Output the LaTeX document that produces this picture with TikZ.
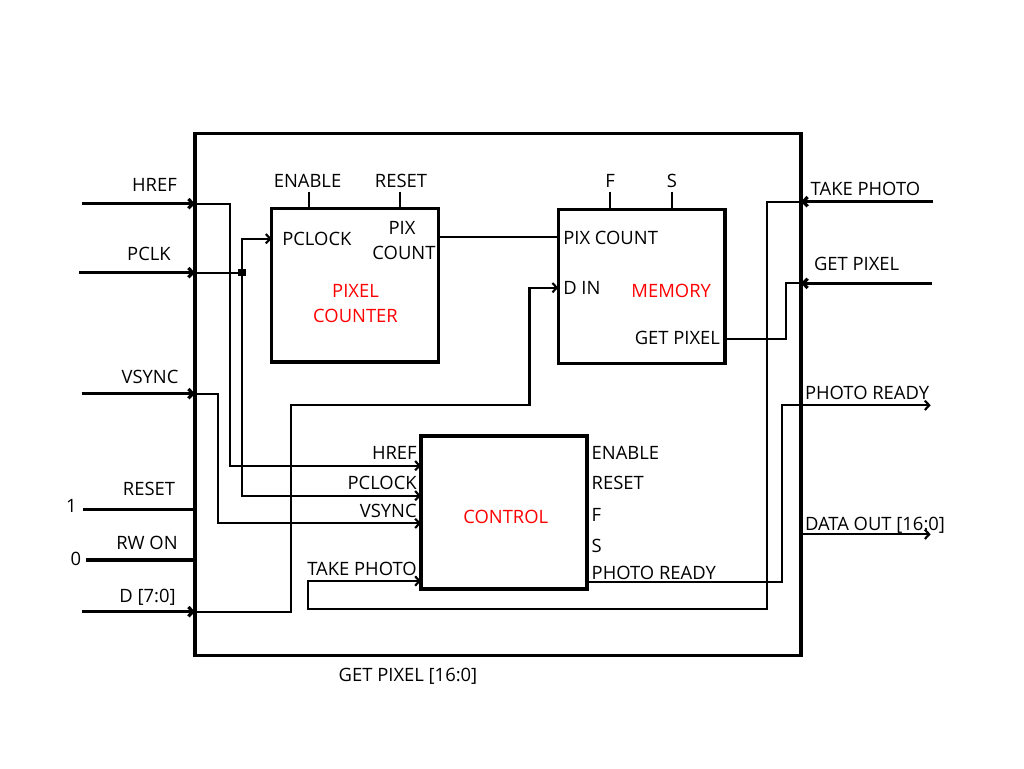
\documentclass[tikz,border=0pt]{standalone}
\usepackage{fontspec}
\setmainfont{Open Sans}
\usetikzlibrary{arrows.meta,fit}
\begin{document}
\begin{tikzpicture}[x=0.75pt,y=-0.75pt,
  every node/.style={font=\fontsize{13.8}{16}\selectfont, inner sep=0pt, outer sep=0pt, text height=9.85pt, text depth=0pt},
  blk/.style={draw, line width=2.4pt, inner sep=0pt, outer sep=0pt},
  redlbl/.style={text=red},
  thk/.style={line width=2.4pt},
  thn/.style={line width=1.6pt},
  arr/.style={-{Straight Barb[length=3.3pt,width=7pt]}},
  jn/.style={fill=black, minimum size=5.5pt, text height=0pt, inner sep=0pt}
]
\useasboundingbox (0,0) rectangle (1024,768);

% blocks
\node[blk, fit={(195,133.3) (801,655.7)}] (outer) {};
\node[blk, fit={(271.7,208.5) (438.3,362)}] (pc) {};
\node[blk, fit={(558.3,209.3) (725,363.3)}] (mem) {};
\node[blk, fit={(421,436) (587,589)}] (ctl) {};

% port coordinates
\coordinate (hrefS) at (81.7,203.7);
\coordinate (hrefB) at (195,203.7);
\coordinate (pclkS) at (79,272.7);
\coordinate (pclkB) at (195,272.7);
\coordinate (vsyncS) at (81.7,393.7);
\coordinate (vsyncB) at (195,393.7);
\coordinate (rstS) at (83,509.3);
\coordinate (rstB) at (195,509.3);
\coordinate (rwS) at (86,560);
\coordinate (rwB) at (195,560);
\coordinate (dS) at (81.7,611.7);
\coordinate (dB) at (195,611.7);
\coordinate (cHref) at (421,465.7);
\coordinate (cPclk) at (421,495.7);
\coordinate (cVsync) at (421,523.3);
\coordinate (cTake) at (421,581);
\coordinate (cReady) at (587,582.3);
\coordinate (pcClk) at (271.7,238.7);
\coordinate (pcCnt) at (438.3,236.7);
\coordinate (mCnt) at (558.3,236.7);
\coordinate (mDin) at (558.3,287.7);
\coordinate (mGet) at (725,339);
\coordinate (takeS) at (932.7,201.7);
\coordinate (takeB) at (801,201.7);
\coordinate (getS) at (932,283.3);
\coordinate (getB) at (801,283.3);
\coordinate (readyE) at (930.7,405.3);
\coordinate (dataB) at (801,534.3);
\coordinate (dataE) at (930.7,534.3);
\coordinate (pcEnT) at (308.7,191.7);
\coordinate (pcEnB) at (308.7,208.5);
\coordinate (pcRsT) at (400,191.7);
\coordinate (pcRsB) at (400,208.5);
\coordinate (mFT) at (609.7,191.7);
\coordinate (mFB) at (609.7,209.3);
\coordinate (mST) at (672.3,191.7);
\coordinate (mSB) at (672.3,209.3);

% external inputs (thick)
\draw[thk,arr] (hrefS) -- (hrefB);
\draw[thk,arr] (pclkS) -- (pclkB);
\draw[thk,arr] (vsyncS) -- (vsyncB);
\draw[thk] (rstS) -- (rstB);
\draw[thk] (rwS) -- (rwB);
\draw[thk,arr] (dS) -- (dB);
\draw[thk,arr] (takeS) -- (takeB);
\draw[thk,arr] (getS) -- (getB);

% internal wiring
\draw[thn,arr] (hrefB) -- (230,203.7) -- (230,465.7) -- (cHref);
\node[jn] (junc) at (242,272.7) {};
\draw[thn] (pclkB) -- (junc.center);
\draw[thn,arr] (junc.center) -- (242,238.7) -- (pcClk);
\draw[thn,arr] (junc.center) -- (242,495.7) -- (cPclk);
\draw[thn,arr] (vsyncB) -- (217.7,393.7) -- (217.7,523.3) -- (cVsync);
\draw[thn,arr] (dB) -- (290.7,611.7) -- (290.7,405) -- (529.5,405) -- (529.5,287.7) -- (mDin);
\draw[thn] (pcCnt) -- (mCnt);
\draw[thn] (pcEnT) -- (pcEnB);
\draw[thn] (pcRsT) -- (pcRsB);
\draw[thn] (mFT) -- (mFB);
\draw[thn] (mST) -- (mSB);
\draw[thn,arr] (takeB) -- (766.7,201.7) -- (766.7,609.3) -- (308.3,609.3) -- (308.3,581) -- (cTake);
\draw[thn] (getB) -- (785.7,283.3) -- (785.7,339) -- (mGet);
\draw[thn,arr] (cReady) -- (782.3,582.3) -- (782.3,405.3) -- (readyE);
\draw[thn,arr] (dataB) -- (dataE);

% left labels
\node (lHref) at (154.5,184.5) {HREF};
\node (lPclk) at (149,253.7) {PCLK};
\node (lVsync) at (150,376.7) {VSYNC};
\node (lReset) at (149,489.3) {RESET};
\node (lOne) at (71.5,506.3) {1};
\node (lRw) at (147,543.3) {RW ON};
\node (lZero) at (76,559) {0};
\node (lD) at (147.5,595.7) {D [7:0]};

% pixel counter labels
\node (pEn) at (307.5,180.7) {ENABLE};
\node (pRs) at (401,180.7) {RESET};
\node[anchor=west] (pClk) at (282.3,239.3) {PCLOCK};
\node (pPix) at (402,228.3) {PIX};
\node (pCount) at (404,253) {COUNT};
\node[redlbl] (pName1) at (355.5,290.7) {PIXEL};
\node[redlbl] (pName2) at (355.5,316) {COUNTER};

% memory labels
\node (mF) at (610,181) {F};
\node (mS) at (672,181) {S};
\node[anchor=west] (mPix) at (563.3,238.3) {PIX COUNT};
\node[anchor=west] (mDinL) at (563.3,287.8) {D IN};
\node[redlbl] (mName) at (671.2,290.8) {MEMORY};
\node[anchor=east] (mGetL) at (720,338.3) {GET PIXEL};

% control labels
\node[anchor=east] (cHrefL) at (416.7,453.3) {HREF};
\node[anchor=east] (cPclkL) at (416.7,483.3) {PCLOCK};
\node[anchor=east] (cVsyncL) at (416.7,511.3) {VSYNC};
\node[anchor=east] (cTakeL) at (416.7,569.3) {TAKE PHOTO};
\node[anchor=west] (cEnL) at (591.7,453.3) {ENABLE};
\node[anchor=west] (cRsL) at (591.7,483.3) {RESET};
\node[anchor=west] (cFL) at (591.7,514.7) {F};
\node[anchor=west] (cSL) at (591.7,545.5) {S};
\node[anchor=west] (cReadyL) at (591.7,572.7) {PHOTO READY};
\node[redlbl] (cName) at (505.8,517) {CONTROL};

% right labels
\node[anchor=west] (rTake) at (810.7,188.8) {TAKE PHOTO};
\node[anchor=west] (rGet) at (814,263.7) {GET PIXEL};
\node[anchor=west] (rReady) at (805,393.3) {PHOTO READY};
\node[anchor=west] (rData) at (805,524) {DATA OUT [16:0]};

% title
\node (title) at (408,675) {GET PIXEL [16:0]};
\end{tikzpicture}
\end{document}
